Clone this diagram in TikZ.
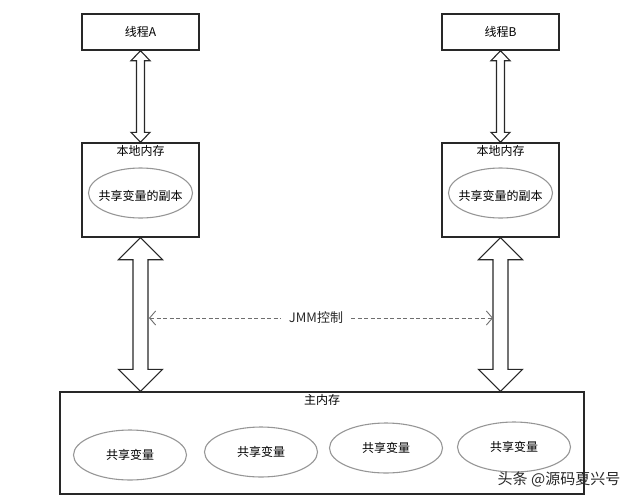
\documentclass[tikz,border=0pt]{standalone}
\usepackage{fontspec}
\setmainfont{Noto Sans CJK SC}
\usepackage{tikz}
\usetikzlibrary{calc,arrows.meta,shapes.geometric}
\definecolor{lineDark}{RGB}{40, 40, 40}
\definecolor{ovalGray}{RGB}{150, 150, 150}
\definecolor{dashGray}{RGB}{110, 110, 110}

\tikzset{
  memBox/.style={draw=lineDark, line width=1.4pt, minimum width=117pt, font=\fontsize{12}{13}\selectfont},
  copyOval/.style={draw=ovalGray, line width=1.1pt, ellipse, minimum width=#1, minimum height=50pt, inner sep=0pt},
  copyOval/.default=104pt,
  ovalText/.style={font=\fontsize{12}{13}\selectfont},
  boxTitle/.style={anchor=north, inner sep=3pt, font=\fontsize{12}{13}\selectfont},
  fatArrow/.style={draw=lineDark, line width=1.1pt, fill=white, line join=miter},
  jmmLine/.style={draw=dashGray, line width=0.9pt, dash pattern=on 4pt off 2.5pt},
}

% vertical two-headed block arrow: from, to, shaft half width, head half width, head length
\newcommand{\blockArrow}[5]{%
  \path let \p1=(#1), \p2=(#2) in
    [fatArrow] (\x1,\y1) -- (\x1+#4,\y1-#5) -- (\x1+#3,\y1-#5) -- (\x1+#3,\y2+#5)
    -- (\x1+#4,\y2+#5) -- (\x1,\y2) -- (\x1-#4,\y2+#5) -- (\x1-#3,\y2+#5)
    -- (\x1-#3,\y1-#5) -- (\x1-#4,\y1-#5) -- cycle;}

\begin{document}
\begin{tikzpicture}[x=1pt, y=-1pt]
  \useasboundingbox (0,0) rectangle (640,501);

  \node[memBox, minimum height=36pt] (threadA) at (140.5,32) {线程A};
  \node[memBox, minimum height=36pt] (threadB) at (500.5,32) {线程B};

  \node[memBox, minimum height=94pt] (localA) at (140.5,190) {};
  \node[boxTitle] at (localA.north) {本地内存};
  \node[copyOval] (copyA) at (140.5,193) {};
  \node[ovalText] at (140.5,196) {共享变量的副本};

  \node[memBox, minimum height=94pt] (localB) at (500.5,190) {};
  \node[boxTitle] at (localB.north) {本地内存};
  \node[copyOval] (copyB) at (500.5,193) {};
  \node[ovalText] at (500.5,196) {共享变量的副本};

  \node[memBox, minimum width=524pt, minimum height=102pt] (mainMem) at (322,443) {};
  \node[boxTitle] at (mainMem.north) {主内存};
  \node[copyOval=113pt] (varA) at (130,455) {};
  \node[copyOval=113pt] (varB) at (261,452) {};
  \node[copyOval=113pt] (varC) at (386,448) {};
  \node[copyOval=113pt] (varD) at (514,447) {};
  \foreach \v in {varA,varB,varC,varD}
    \node[ovalText] at (\v) {共享变量};

  \blockArrow{threadA.south}{localA.north}{4pt}{9.5pt}{10pt}
  \blockArrow{threadB.south}{localB.north}{4pt}{9.5pt}{10pt}
  \blockArrow{localA.south}{localA.south |- mainMem.north}{7.5pt}{22pt}{22pt}
  \blockArrow{localB.south}{localB.south |- mainMem.north}{7.5pt}{22pt}{22pt}

  \coordinate (jmmL) at (149,318);
  \coordinate (jmmR) at (493,318);
  \node[inner sep=8pt, font=\fontsize{13}{14}\selectfont, text=lineDark] (jmm) at (316,318) {JMM控制};
  \draw[jmmLine, {Straight Barb[length=6pt, width=14pt]}-] (jmmL) -- (jmm.west);
  \draw[jmmLine, -{Straight Barb[length=6pt, width=14pt]}] (jmm.east) -- (jmmR);

  \node[font=\fontsize{15}{16}\selectfont, text=lineDark] (mark) at (559,479) {头条 @源码夏兴号};
\end{tikzpicture}
\end{document}
